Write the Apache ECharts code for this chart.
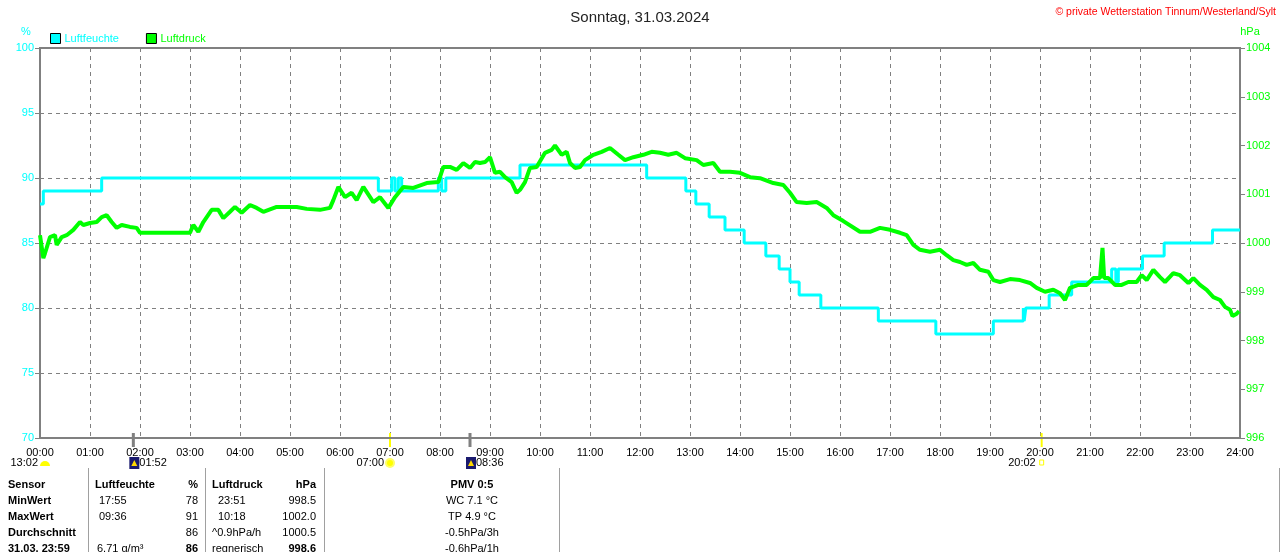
<!DOCTYPE html>
<html>
<head>
<meta charset="utf-8">
<script src="https://cdn.jsdelivr.net/npm/echarts@6/dist/echarts.min.js"></script>
<style>
html, body { margin: 0; padding: 0; background: #fff; }
#chart { width: 1280px; height: 552px; }
</style>
</head>
<body>
<div id="chart"></div>
<script>
// Luftfeuchte (%), Stufenwerte: ab Uhrzeit gilt Wert
const humTimes = ['00:00','00:04','01:14','06:46','07:02','07:06','07:10','07:14','07:58','08:02','08:07','09:36',
  '12:08','12:55','13:07','13:23','13:42','14:05','14:31','14:47','15:00','15:11','15:37','16:46','17:55',
  '19:04','19:40','19:41','19:43','20:11','20:38','21:26','21:31','21:34','22:03','22:29','23:27','24:00'];
const humVals = [88,89,90,89,90,89,90,89,90,89,90,91,
  90,89,88,87,86,85,84,83,82,81,80,79,78,
  79,80,79,80,81,82,83,82,83,84,85,86,86];

// Luftdruck (hPa)
const presTimes = ['00:00','00:04','00:06','00:12','00:18','00:20','00:26','00:32','00:40','00:48','00:52',
  '01:00','01:08','01:14','01:20','01:26','01:32','01:38','01:48','01:56','02:00','03:00','03:04','03:10',
  '03:16','03:26','03:34','03:40','03:48','03:54','04:02','04:12','04:20','04:28','04:44','04:56','05:08',
  '05:20','05:36','05:48','05:52','05:58','06:06','06:14','06:20','06:28','06:40','06:48','06:58','07:06',
  '07:16','07:28','07:44','07:58','08:04','08:12','08:20','08:28','08:36','08:42','08:48','08:54','09:00',
  '09:06','09:12','09:18','09:26','09:32','09:36','09:42','09:48','09:56','10:06','10:14','10:18','10:26',
  '10:32','10:36','10:42','10:48','10:54','11:04','11:14','11:24','11:34','11:42','11:52','12:04','12:14',
  '12:24','12:34','12:44','12:54','13:08','13:16','13:28','13:36','13:48','14:00','14:12','14:24','14:40',
  '14:52','15:00','15:08','15:20','15:32','15:44','15:52','16:04','16:24','16:36','16:48','17:00','17:12',
  '17:20','17:28','17:36','17:48','18:00','18:08','18:16','18:24','18:32','18:40','18:48','18:58','19:04',
  '19:12','19:24','19:36','19:48','19:56','20:06','20:16','20:24','20:30','20:36','20:46','20:56','21:04',
  '21:12','21:15','21:17','21:22','21:30','21:38','21:46','21:56','22:02','22:08','22:16','22:24','22:30',
  '22:40','22:48','22:58','23:04','23:12','23:20','23:28','23:36','23:42','23:48','23:51','23:56','23:59'];
const presVals = [1000.16,999.69,999.79,1000.12,1000.16,999.96,1000.12,1000.16,1000.27,1000.43,1000.37,
  1000.41,1000.43,1000.53,1000.57,1000.43,1000.31,1000.37,1000.33,1000.31,1000.21,1000.21,1000.37,1000.23,
  1000.43,1000.68,1000.68,1000.51,1000.64,1000.74,1000.62,1000.78,1000.72,1000.64,1000.74,1000.74,1000.74,
  1000.70,1000.68,1000.72,1000.88,1001.15,1000.94,1001.03,1000.88,1001.15,1000.84,1000.94,1000.72,1000.94,
  1001.15,1001.13,1001.23,1001.25,1001.56,1001.56,1001.50,1001.64,1001.54,1001.66,1001.64,1001.66,1001.76,
  1001.44,1001.46,1001.35,1001.25,1001.03,1001.09,1001.25,1001.54,1001.56,1001.85,1001.91,1002.0,1001.81,
  1001.87,1001.64,1001.54,1001.56,1001.70,1001.81,1001.87,1001.95,1001.81,1001.70,1001.76,1001.81,1001.87,
  1001.85,1001.81,1001.85,1001.74,1001.70,1001.60,1001.64,1001.46,1001.46,1001.44,1001.35,1001.33,1001.23,
  1001.19,1001.03,1000.84,1000.82,1000.84,1000.72,1000.57,1000.45,1000.23,1000.23,1000.31,1000.27,1000.21,
  1000.16,999.96,999.86,999.82,999.86,999.75,999.65,999.61,999.55,999.59,999.45,999.41,999.24,
  999.20,999.26,999.24,999.18,999.08,999.00,999.04,998.97,998.83,999.08,999.14,999.14,999.28,
  999.28,999.90,999.28,999.28,999.14,999.14,999.20,999.20,999.34,999.24,999.45,999.30,999.20,
  999.38,999.34,999.18,999.28,999.14,999.04,998.89,998.83,998.69,998.63,998.50,998.55,998.60];

// Sonnen-/Mondereignisse unter der Zeitachse
const eventTimes = ['01:52','07:00','08:36','20:02'];
const eventKinds = ['moon','sun','moon','sun'];
const moonNote = '13:02';

// Tabelle
const tableHead = ['Sensor','Luftfeuchte','%','Luftdruck','hPa','PMV 0:5'];
const rowLabels = ['MinWert','MaxWert','Durchschnitt','31.03. 23:59'];
const humInfo = ['17:55','09:36','','6.71 g/m³'];
const humStat = ['78','91','86','86'];
const presInfo = ['23:51','10:18','^0.9hPa/h','regnerisch'];
const presStat = ['998.5','1002.0','1000.5','998.6'];
const pmvInfo = ['WC 7.1 °C','TP 4.9 °C','-0.5hPa/3h','-0.6hPa/1h'];

const CYAN = '#00ffff', GREEN = '#00ff00', GREY = '#808080';
const FONT = '"Liberation Sans", Arial, sans-serif';

function toMin(t) {
  const p = t.split(':');
  return (+p[0]) * 60 + (+p[1]);
}
function pad(n) { return (n < 10 ? '0' : '') + n; }

const humData = humTimes.map((t, i) => [toMin(t), humVals[i]]);
const presData = presTimes.map((t, i) => [toMin(t), presVals[i]]);

const chart = echarts.init(document.getElementById('chart'));

const option = {
  animation: false,
  textStyle: { fontFamily: FONT },
  title: {
    text: 'Sonntag, 31.03.2024',
    left: 'center',
    top: 5,
    textStyle: { fontSize: 15, fontWeight: 'normal', color: '#222', fontFamily: FONT }
  },
  legend: {
    left: 50,
    top: 33,
    padding: 0,
    icon: 'rect',
    itemWidth: 10,
    itemHeight: 10,
    itemGap: 27,
    itemStyle: { borderColor: '#000', borderWidth: 1 },
    data: [
      { name: 'Luftfeuchte', textStyle: { color: CYAN } },
      { name: 'Luftdruck', textStyle: { color: GREEN } }
    ],
    textStyle: { fontSize: 11, fontFamily: FONT, padding: [0, 0, 0, -1] }
  },
  grid: {
    left: 40, right: 40, top: 48, bottom: 114,
    show: true, borderColor: GREY, borderWidth: 2
  },
  xAxis: {
    type: 'value',
    min: 0, max: 1440, interval: 60,
    axisLine: { show: true, lineStyle: { color: GREY, width: 2 } },
    axisTick: { show: false },
    axisLabel: {
      color: '#000', fontSize: 11, margin: 9,
      formatter: v => pad(Math.round(v / 60)) + ':00'
    },
    splitLine: { show: true, lineStyle: { color: GREY, type: [4, 4], width: 1 } }
  },
  yAxis: [
    {
      type: 'value', min: 70, max: 100, interval: 5,
      axisLine: { show: true, lineStyle: { color: GREY, width: 2 } },
      axisTick: { show: true, length: 5, lineStyle: { color: GREY } },
      axisLabel: { color: CYAN, fontSize: 11, margin: 6 },
      splitLine: { show: true, lineStyle: { color: GREY, type: [4, 4], width: 1 } }
    },
    {
      type: 'value', min: 996, max: 1004, interval: 1, position: 'right',
      axisLine: { show: true, lineStyle: { color: GREY, width: 2 } },
      axisTick: { show: true, length: 5, lineStyle: { color: GREY } },
      axisLabel: { color: GREEN, fontSize: 11, margin: 6, formatter: v => String(v) },
      splitLine: { show: false }
    }
  ],
  series: [
    {
      name: 'Luftfeuchte', type: 'line', yAxisIndex: 0,
      step: 'end', showSymbol: false, data: humData,
      itemStyle: { color: CYAN },
      lineStyle: { color: CYAN, width: 3 }
    },
    {
      name: 'Luftdruck', type: 'line', yAxisIndex: 1,
      showSymbol: false, data: presData,
      itemStyle: { color: GREEN },
      lineStyle: { color: GREEN, width: 4 }
    }
  ]
};
chart.setOption(option);

// Zusatz: Beschriftungen, Ereignisse, Tabelle
const g = [];
function txt(x, y, s, opt) {
  opt = opt || {};
  g.push({
    type: 'text', silent: true,
    style: {
      x: x, y: y, text: s,
      fill: opt.color || '#000',
      font: (opt.bold ? 'bold ' : '') + (opt.size || 11) + 'px ' + FONT,
      textAlign: opt.align || 'left',
      textVerticalAlign: 'middle'
    }
  });
}
function line(x1, y1, x2, y2, color, w) {
  g.push({ type: 'line', silent: true, shape: { x1, y1, x2, y2 }, style: { stroke: color, lineWidth: w } });
}

txt(1276, 12, '© private Wetterstation Tinnum/Westerland/Sylt', { color: '#ff0000', size: 10.5, align: 'right' });
txt(26, 32, '%', { color: CYAN, align: 'center' });
txt(1250, 32, 'hPa', { color: GREEN, align: 'center' });

const axisY = chart.convertToPixel({ yAxisIndex: 0 }, 70);
const x0 = chart.convertToPixel({ xAxisIndex: 0 }, 0);

// Mondnotiz links
txt(x0 - 2, axisY + 25, moonNote, { align: 'right' });
g.push({ type: 'sector', silent: true,
  shape: { cx: x0 + 5, cy: axisY + 28, r: 5, startAngle: Math.PI, endAngle: Math.PI * 2 },
  style: { fill: '#ffff00' } });

eventTimes.forEach((t, i) => {
  const x = chart.convertToPixel({ xAxisIndex: 0 }, toMin(t));
  const cy = axisY + 25;
  if (eventKinds[i] === 'moon') {
    line(x, axisY - 5, x, axisY + 9, GREY, 3);
    g.push({ type: 'rect', silent: true, shape: { x: x - 4, y: cy - 6, width: 10, height: 12 }, style: { fill: '#1a1a6e' } });
    g.push({ type: 'polygon', silent: true, shape: { points: [[x + 1, cy - 3], [x + 4, cy + 3], [x - 2, cy + 3]] }, style: { fill: '#ffd800' } });
    txt(x + 6, cy, t);
  } else {
    line(x, axisY - 5, x, axisY + 9, '#ffff00', 2);
    if (i === 1) {
      g.push({ type: 'circle', silent: true, shape: { cx: x, cy: cy, r: 5 }, style: { fill: '#ffff66' } });
      g.push({ type: 'circle', silent: true, shape: { cx: x, cy: cy, r: 3 }, style: { fill: '#ffff00' } });
    } else {
      g.push({ type: 'rect', silent: true, shape: { x: x - 2, y: cy - 3, width: 4, height: 5 }, style: { fill: '#fff', stroke: '#ffff00', lineWidth: 1 } });
    }
    txt(x - 6, cy, t, { align: 'right' });
  }
});

// Tabelle
const colX = [8, 95, 198, 212, 316, 472];
const rowY0 = 485, rowH = 16;
[88, 205, 324, 559, 1279].forEach(x => line(x + 0.5, 468, x + 0.5, 552, '#a0a0a0', 1));

txt(colX[0], rowY0, tableHead[0], { bold: true });
txt(colX[1], rowY0, tableHead[1], { bold: true });
txt(colX[2], rowY0, tableHead[2], { bold: true, align: 'right' });
txt(colX[3], rowY0, tableHead[3], { bold: true });
txt(colX[4], rowY0, tableHead[4], { bold: true, align: 'right' });
txt(colX[5], rowY0, tableHead[5], { bold: true, align: 'center' });

rowLabels.forEach((lab, i) => {
  const y = rowY0 + rowH * (i + 1);
  const last = i === rowLabels.length - 1;
  const timeRow = i < 2;
  txt(colX[0], y, lab, { bold: true });
  txt(colX[1] + (timeRow ? 4 : 2), y, humInfo[i]);
  txt(colX[2], y, humStat[i], { align: 'right', bold: last });
  txt(colX[3] + (timeRow ? 6 : 0), y, presInfo[i]);
  txt(colX[4], y, presStat[i], { align: 'right', bold: last });
  txt(colX[5], y, pmvInfo[i], { align: 'center' });
});

chart.setOption({ graphic: { elements: g } });
</script>
</body>
</html>
